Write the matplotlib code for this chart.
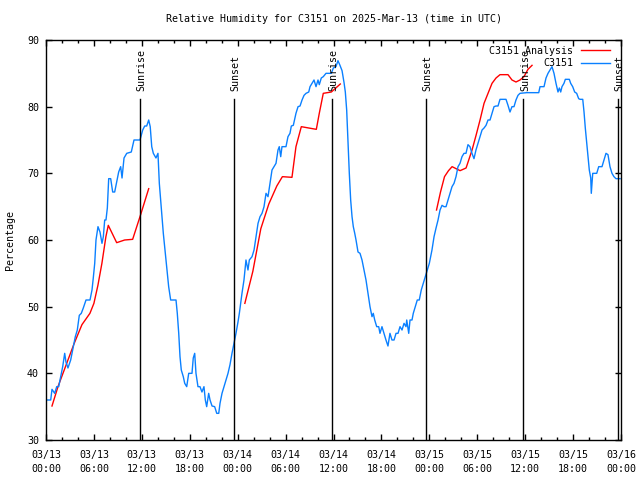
import matplotlib
matplotlib.use("Agg")
import matplotlib.pyplot as plt
from matplotlib.ticker import MultipleLocator, FuncFormatter

# ── Data (hours since 2025-03-13 00:00 UTC, relative humidity %) ──────────────
obs_hours = [
    0.09, 0.59, 0.75, 1.09, 1.34, 1.59, 1.84, 2.09, 2.34, 2.50, 2.75, 3.09, 3.34, 3.67,
    3.92, 4.17, 4.42, 4.67, 5.01, 5.51, 5.76, 5.92, 6.10, 6.26, 6.51, 6.76, 7.01, 7.18,
    7.35, 7.51, 7.68, 7.85, 8.10, 8.35, 8.60, 8.85, 9.10, 9.35, 9.52, 9.77, 10.11, 10.68,
    11.02, 11.77, 12.11, 12.36, 12.61, 12.86, 13.05, 13.24, 13.44, 13.77, 14.02, 14.19,
    14.36, 14.53, 14.69, 14.86, 15.03, 15.19, 15.36, 15.53, 15.61, 16.28, 16.44, 16.62,
    16.78, 16.94, 17.19, 17.37, 17.62, 17.87, 18.28, 18.44, 18.62, 18.78, 19.03, 19.28,
    19.53, 19.78, 19.95, 20.12, 20.37, 20.54, 20.79, 21.12, 21.38, 21.63, 21.79, 22.04,
    22.29, 22.54, 22.79, 23.04, 23.29, 23.54, 23.79, 24.04, 24.21, 24.54, 24.79, 25.04,
    25.29, 25.46, 25.80, 26.05, 26.30, 26.55, 26.80, 27.05, 27.30, 27.55, 27.80, 28.05,
    28.30, 28.55, 28.80, 29.05, 29.21, 29.39, 29.55, 29.80, 30.05, 30.30, 30.55, 30.72,
    30.97, 31.30, 31.56, 31.81, 32.06, 32.31, 32.56, 32.90, 33.06, 33.31, 33.56, 33.81,
    34.06, 34.22, 34.47, 34.72, 35.06, 35.73, 35.98, 36.31, 36.56, 36.81, 37.07, 37.32,
    37.48, 37.65, 37.82, 37.98, 38.15, 38.32, 38.48, 38.66, 38.82, 39.07, 39.32, 39.57,
    39.82, 40.07, 40.32, 40.57, 40.82, 40.98, 41.16, 41.41, 41.66, 41.82, 42.07, 42.32,
    42.57, 42.82, 43.07, 43.32, 43.58, 43.83, 44.08, 44.33, 44.58, 44.83, 45.08, 45.17,
    45.42, 45.58, 45.83, 45.99, 46.24, 46.49, 46.74, 46.99, 47.24, 47.49, 47.75, 48.00,
    48.33, 48.59, 48.84, 49.09, 49.34, 49.59, 49.84, 50.09, 50.34, 50.59, 50.84, 51.09,
    51.34, 51.59, 51.84, 52.09, 52.34, 52.59, 52.84, 53.09, 53.34, 53.59, 53.84, 54.09,
    54.35, 54.60, 54.85, 55.10, 55.35, 55.60, 55.85, 56.10, 56.35, 56.60, 56.85, 57.10,
    57.60, 57.85, 58.10, 58.35, 58.60, 58.85, 59.10, 59.35, 60.19, 61.70, 61.86, 62.36,
    62.61, 62.86, 63.11, 63.36, 63.61, 63.86, 64.11, 64.28, 64.45, 64.61, 64.86, 65.03,
    65.53, 65.70, 65.95, 66.20, 66.45, 66.70, 66.87, 67.21, 67.37, 67.53, 67.71, 67.87,
    68.03, 68.21, 68.28, 68.46, 68.71, 68.96, 69.21, 69.62, 69.87, 70.12, 70.37, 70.62,
    70.87, 71.12, 71.37, 71.88,
]
obs_rh = [
    36.0, 36.0, 37.6, 37.0, 38.0, 38.0, 39.5, 41.0, 43.0, 41.7, 40.8, 42.0, 43.5, 45.5,
    46.5, 48.7, 49.0, 49.8, 51.0, 51.0, 52.5, 54.3, 56.5, 60.0, 62.0, 61.2, 59.5, 60.5,
    63.0, 63.0, 64.8, 69.2, 69.2, 67.2, 67.2, 68.7, 70.2, 71.0, 69.3, 72.3, 73.0, 73.2,
    75.0, 75.0, 76.5, 77.1, 77.1, 78.0, 77.0, 74.0, 73.0, 72.3, 73.0, 68.5,
    66.0, 63.5, 61.0, 59.0, 57.0, 55.0, 53.0, 51.7, 51.0, 51.0, 49.0, 46.0,
    42.5, 40.5, 39.5, 38.5, 38.0, 40.0, 40.0, 42.3, 43.0, 40.0, 38.0, 38.0,
    37.2, 38.0, 36.0, 35.0, 37.0, 36.0, 35.1, 35.0, 34.0, 34.0, 35.5, 37.0,
    38.0, 39.0, 40.0, 41.3, 43.0, 44.5, 46.0, 47.7, 49.0, 52.0, 54.0, 57.0,
    55.5, 57.0, 57.5, 58.5, 60.5, 62.5, 63.5, 64.0, 65.0, 67.0, 66.5, 68.5,
    70.5, 71.0, 71.5, 73.5, 74.0, 72.5, 74.0, 74.0, 74.0, 75.5, 76.0, 77.1,
    77.2, 79.0, 80.0, 80.1, 81.0, 81.7, 82.0, 82.2, 83.0, 83.5, 84.0, 83.0,
    84.0, 83.3, 84.3, 84.5, 85.0, 85.0, 85.8, 86.0, 86.9, 86.2, 85.4, 83.6,
    82.2, 79.5, 74.5, 70.0, 66.0, 63.5, 62.0, 61.0, 60.0, 58.2, 58.0, 57.0,
    55.5, 54.0, 52.0, 50.0, 48.5, 49.0, 48.0, 47.0, 47.0, 46.0, 47.0, 46.0,
    45.0, 44.1, 46.0, 45.0, 45.0, 46.0, 46.0, 47.0, 46.5, 47.5, 47.0, 48.0,
    46.0, 48.0, 48.0, 49.0, 50.0, 51.0, 51.0, 52.5, 53.5, 54.5, 55.5, 56.5,
    58.5, 60.5, 61.8, 63.0, 64.5, 65.2, 65.0, 65.0, 66.0, 67.0, 68.0, 68.5,
    69.5, 71.0, 71.5, 72.5, 73.0, 73.0, 74.3, 74.0, 73.0, 72.2, 73.5, 74.5,
    75.5, 76.5, 76.8, 77.2, 78.0, 78.0, 79.0, 80.0, 80.1, 80.1, 81.1, 81.1,
    81.1, 80.2, 79.2, 80.0, 80.0, 81.0, 81.7, 82.0, 82.1, 82.1, 83.0, 83.0,
    84.3, 85.0, 85.5, 86.0, 85.0, 83.5, 82.2, 82.8, 82.2, 83.0, 83.5, 84.1,
    84.1, 83.5, 83.0, 82.2, 82.0, 81.2, 81.1, 81.1, 79.2, 76.8, 74.5, 72.3,
    70.5, 69.3, 67.0, 70.0, 70.0, 70.0, 71.0, 71.0, 72.0, 73.0, 72.8, 71.0,
    70.0, 69.5, 69.2, 69.2,
]

# analysis comes in three 12-hour chunks
ana_hours_1 = [0.75, 1.5, 2.5, 3.5, 4.5, 5.5, 6.0, 6.5, 7.0, 7.5, 7.8, 8.85, 9.85, 10.85, 11.85, 12.86]
ana_rh_1 = [35.1, 38.0, 41.2, 44.4, 47.3, 49.0, 50.5, 53.2, 56.5, 60.5, 62.2, 59.6, 60.0, 60.1, 63.8, 67.7]
ana_hours_2 = [24.9, 25.9, 26.9, 27.9, 28.9, 29.6, 30.8, 31.3, 31.97, 32.9, 33.85, 34.22, 34.72, 35.73, 36.85]
ana_rh_2 = [50.5, 55.3, 61.7, 65.4, 68.1, 69.5, 69.4, 74.0, 77.0, 76.8, 76.6, 79.0, 82.0, 82.2, 83.4]
ana_hours_3 = [48.9, 49.4, 49.9, 50.4, 50.85, 51.85, 52.6, 53.35, 53.85, 54.35, 54.85, 55.35,
               55.85, 56.35, 56.85, 57.85, 58.35, 58.85, 59.35, 59.85, 60.35, 60.86]
ana_rh_3 = [64.5, 67.2, 69.5, 70.4, 71.0, 70.4, 70.8, 73.5, 75.7, 78.0, 80.5, 82.0,
            83.5, 84.3, 84.8, 84.8, 84.0, 83.7, 84.0, 84.5, 85.6, 86.2]

sunrise_hours = [11.78, 35.82, 59.77]
sunset_hours = [23.55, 47.58, 71.60]

FONT = "DejaVu Sans Mono"
plt.rcParams["font.family"] = FONT
plt.rcParams["font.size"] = 7.2

RED = "#ff0000"
BLUE = "#0a80ff"

fig = plt.figure(figsize=(6.4, 4.8), dpi=100)
ax = fig.add_axes([46 / 640, 40 / 480, 575 / 640, 400 / 480])

ax.plot(ana_hours_1, ana_rh_1, color=RED, lw=1.0, label="C3151 Analysis")
ax.plot(ana_hours_2, ana_rh_2, color=RED, lw=1.0)
ax.plot(ana_hours_3, ana_rh_3, color=RED, lw=1.0)
ax.plot(obs_hours, obs_rh, color=BLUE, lw=1.0, label="C3151")

# sunrise / sunset markers
for name, times in (("Sunrise", sunrise_hours), ("Sunset", sunset_hours)):
    for t in times:
        ax.plot([t, t], [0, 0.8525], color="black", lw=1.0,
                transform=ax.get_xaxis_transform())
        ax.text(t + 0.2, 0.872, name, rotation=90, ha="center", va="bottom",
                transform=ax.get_xaxis_transform())

ax.set_xlim(0, 72)
ax.set_ylim(30, 90)
ax.xaxis.set_major_locator(MultipleLocator(6))
ax.xaxis.set_minor_locator(MultipleLocator(2))
ax.yaxis.set_major_locator(MultipleLocator(10))
ax.xaxis.set_major_formatter(FuncFormatter(
    lambda h, _: "03/%02d\n%02d:00" % (13 + int(h) // 24, int(h) % 24)))
ax.tick_params(which="both", direction="in", top=True, right=True, width=1.0)
ax.tick_params(which="major", length=4.5)
ax.tick_params(which="minor", length=2.5)
ax.tick_params(axis="x", pad=7.5)
ax.tick_params(axis="y", pad=5)
for lab in ax.get_xticklabels():
    lab.set_linespacing(1.45)
for s in ax.spines.values():
    s.set_linewidth(1.0)

leg = ax.legend(loc="upper right", bbox_to_anchor=(0.992, 1.0), markerfirst=False,
                frameon=False, handlelength=2.9, handletextpad=0.8,
                labelspacing=0.25, borderaxespad=0.2)

fig.text(333.5 / 640, 1 - 19 / 480, "Relative Humidity for C3151 on 2025-Mar-13 (time in UTC)",
         ha="center", va="center")
fig.text(10 / 640, 0.5, "Percentage", rotation=90, ha="center", va="center")

fig.savefig("out.png", dpi=100)
